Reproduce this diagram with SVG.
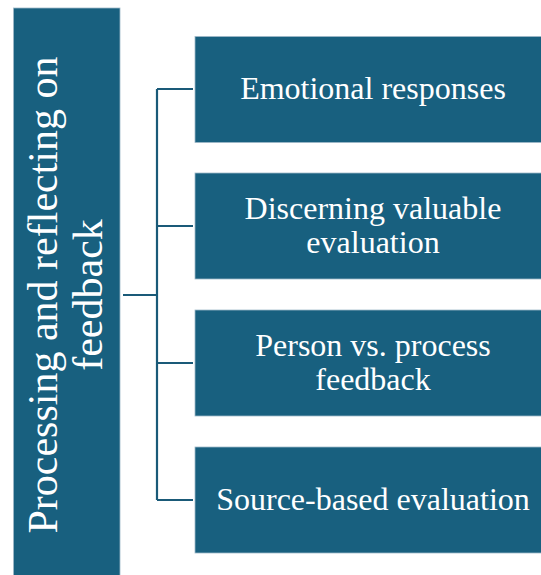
<svg xmlns="http://www.w3.org/2000/svg" width="541" height="575" viewBox="0 0 541 575">
<style>
.box{fill:#18607f;stroke:#9fb9c9;stroke-width:0.8}
.t{font-family:"Liberation Serif","Times New Roman",serif;fill:#ffffff;text-anchor:middle}
.s{font-size:32px}
.l{font-size:42px}
.c{fill:none;stroke:#1a5a78;stroke-width:2.2}
</style>
<rect width="541" height="575" fill="#ffffff"/>
<g id="connectors">
<path class="c" d="M123 295H157M157 89V500M157 89H193M157 226H193M157 363H193M157 500H193"/>
</g>
<g id="root">
<rect class="box" x="13.5" y="8" width="106.5" height="570"/>
<g transform="rotate(-90)">
<text class="t l" x="-295" y="57">Processing and reflecting on</text>
<text class="t l" x="-295" y="102">feedback</text>
</g>
</g>
<g id="n1">
<rect class="box" x="195" y="36.5" width="350" height="106"/>
<text class="t s" x="373" y="99">Emotional responses</text>
</g>
<g id="n2">
<rect class="box" x="195" y="173" width="350" height="106"/>
<text class="t s" x="373" y="219">Discerning valuable</text>
<text class="t s" x="373" y="253">evaluation</text>
</g>
<g id="n3">
<rect class="box" x="195" y="310" width="350" height="106"/>
<text class="t s" x="373" y="356">Person vs. process</text>
<text class="t s" x="373" y="390">feedback</text>
</g>
<g id="n4">
<rect class="box" x="195" y="447" width="350" height="106"/>
<text class="t s" x="373" y="510">Source-based evaluation</text>
</g>
</svg>
